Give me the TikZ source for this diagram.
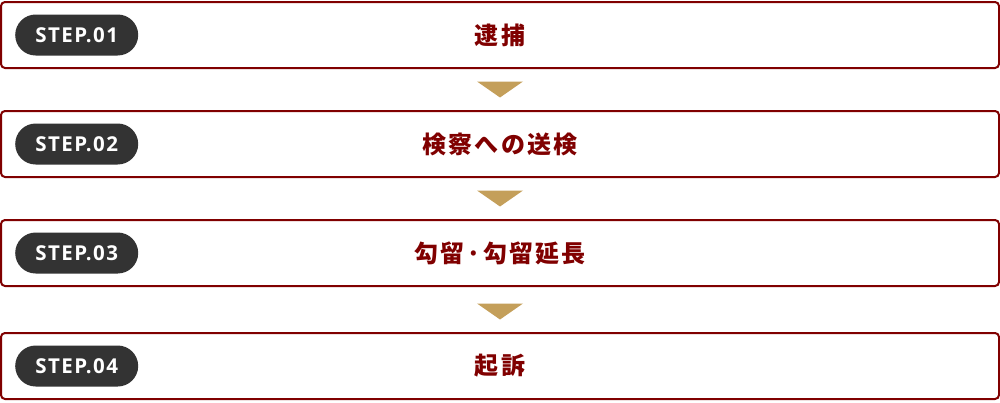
\documentclass[tikz,border=0pt]{standalone}
\usepackage{fontspec}
\setsansfont[LetterSpace=7]{Open Sans}
\newfontfamily\cjk[LetterSpace=9]{Noto Sans CJK JP}
\usetikzlibrary{calc,positioning}
\definecolor{stepred}{HTML}{800000}
\definecolor{pillgray}{HTML}{333333}
\definecolor{arrowgold}{HTML}{C49F5A}
\tikzset{
  stepbox/.style={draw=stepred, line width=2pt, rounded corners=4pt,
    minimum width=998pt, minimum height=66pt, inner sep=0pt,
    text=stepred, font=\cjk\bfseries\fontsize{24}{24}\selectfont},
  pill/.style={fill=pillgray, rounded corners=20.5pt, inner sep=0pt,
    minimum width=123pt, minimum height=41pt,
    text=white, font=\sffamily\bfseries\fontsize{20.5}{20.5}\selectfont},
  downtri/.style={fill=arrowgold}
}

\begin{document}
\begin{tikzpicture}[x=1pt,y=-1pt]
\useasboundingbox (0,0) rectangle (1000,402);

% the four steps
\node[stepbox] (s1) at (500,35) {逮捕};
\node[stepbox] (s2) at (500,144) {検察への送検};
\node[stepbox] (s3) at (500,253) {勾留·勾留延長};
\node[stepbox] (s4) at (500,366) {起訴};

\node[pill, right=15pt of s1.west] (p1) {STEP.01};
\node[pill, right=15pt of s2.west] (p2) {STEP.02};
\node[pill, right=15pt of s3.west] (p3) {STEP.03};
\node[pill, right=15pt of s4.west] (p4) {STEP.04};

% arrows between steps
\coordinate (m1) at ($(s1.south)!0.5!(s2.north)$);
\coordinate (m2) at ($(s2.south)!0.5!(s3.north)$);
\coordinate (m3) at ($(s3.south)!0.5!(s4.north)$);
\fill[downtri] ($(m1)+(-23,-8)$) -- ($(m1)+(23,-8)$) -- ($(m1)+(0,8)$) -- cycle;
\fill[downtri] ($(m2)+(-23,-8)$) -- ($(m2)+(23,-8)$) -- ($(m2)+(0,8)$) -- cycle;
\fill[downtri] ($(m3)+(-23,-6)$) -- ($(m3)+(23,-6)$) -- ($(m3)+(0,10)$) -- cycle;

\end{tikzpicture}
\end{document}
